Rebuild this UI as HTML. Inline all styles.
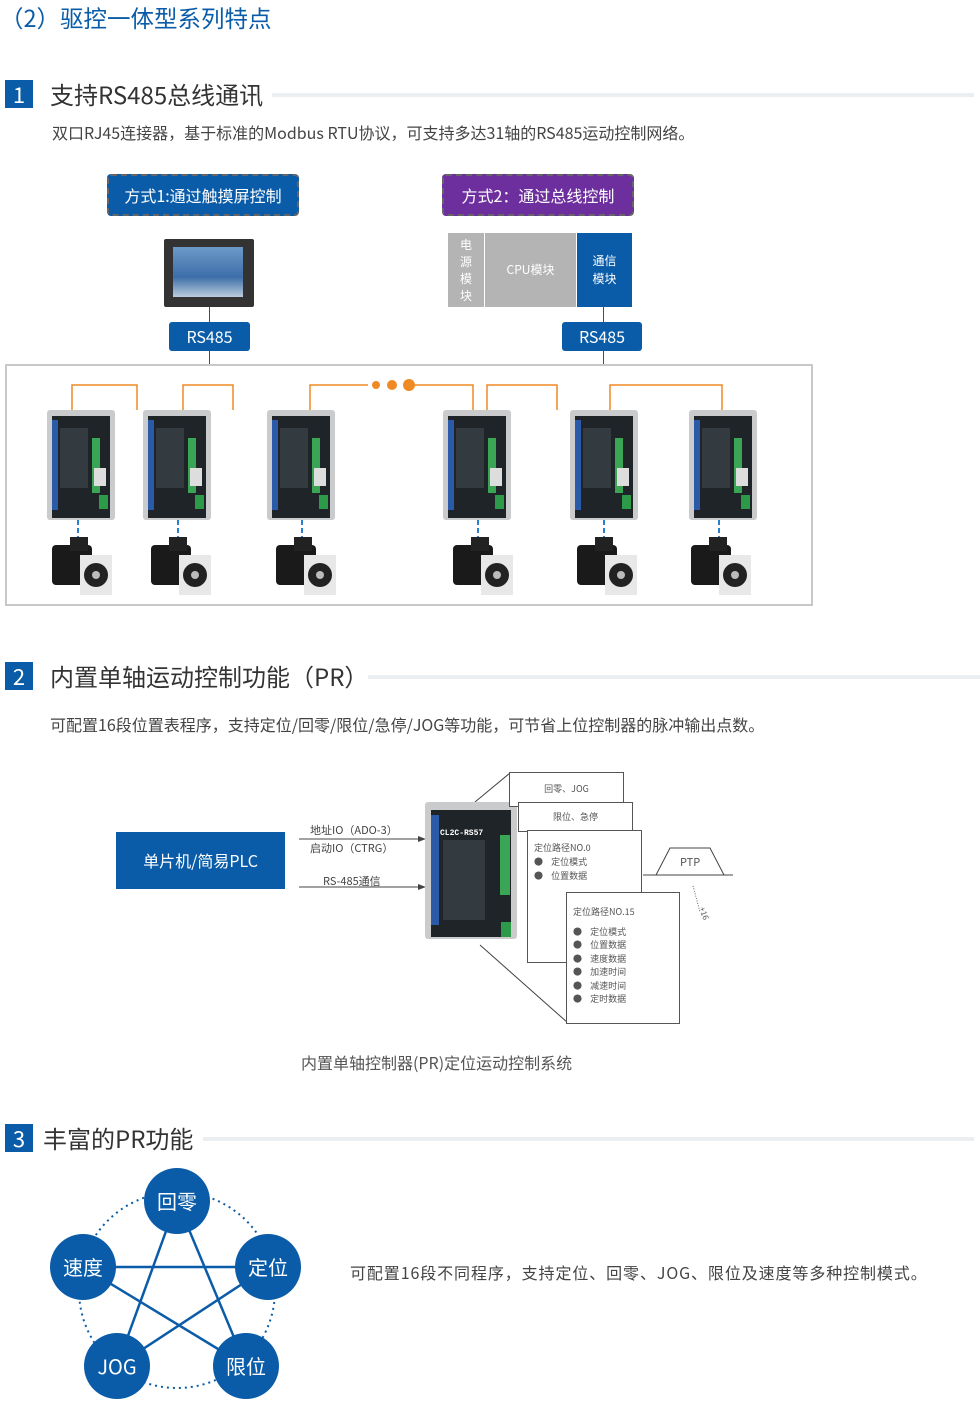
<!DOCTYPE html>
<html><head><meta charset="utf-8"><style>
*{margin:0;padding:0;box-sizing:border-box}
body{width:980px;height:1409px;background:#fff;position:relative;font-family:"Noto Sans CJK SC","Liberation Sans",sans-serif;color:#333;overflow:hidden}
.a{position:absolute}
.num{position:absolute;width:28px;height:28px;background:#0a5ca8;color:#fff;font-size:22px;text-align:center;line-height:28px}
.h{position:absolute;font-size:24px;color:#333;line-height:28px}
.gl{position:absolute;height:4px;background:#eceff2}
.p{position:absolute;font-size:16px;color:#444;line-height:20px;white-space:nowrap}
.bl{background:#0a5ca8;color:#fff;text-align:center}
.circ{position:absolute;width:66px;height:66px;border-radius:50%;background:#0a5ca8;color:#fff;font-size:20px;text-align:center;line-height:66px}
.card{position:absolute;background:#fff;border:1px solid #555;font-size:9px;color:#555}
</style></head><body>
<div class="a" style="left:0;top:2px;font-size:23.5px;color:#0a5ca8;line-height:30px">（2）驱控一体型系列特点</div>

<div class="num" style="left:5px;top:80px">1</div>
<div class="h" style="left:50px;top:80px">支持RS485总线通讯</div>
<div class="gl" style="left:272px;top:93px;width:702px"></div>
<div class="p" style="left:52px;top:122px">双口RJ45连接器，基于标准的Modbus RTU协议，可支持多达31轴的RS485运动控制网络。</div>

<div class="a bl" style="left:107px;top:174px;width:192px;height:42px;border:2px dashed #666;border-radius:4px;font-size:16px;line-height:38px">方式1:通过触摸屏控制</div>
<div class="a" style="left:442px;top:174px;width:192px;height:42px;border:2px dashed #666;border-radius:4px;background:#6e2f9e;color:#fff;font-size:16px;line-height:38px;text-align:center">方式2：通过总线控制</div>

<div class="a" style="left:164px;top:239px;width:90px;height:68px;background:#333;border-radius:2px"></div>
<div class="a" style="left:173px;top:247px;width:70px;height:50px;background:linear-gradient(#6d9ac9,#3d6ea8 60%,#bcd 100%)"></div>
<div class="a" style="left:209px;top:307px;width:1px;height:15px;background:#0a5ca8"></div>
<div class="a bl" style="left:169px;top:322px;width:81px;height:29px;border-radius:3px;font-size:16px;line-height:29px">RS485</div>
<div class="a" style="left:209px;top:351px;width:1px;height:14px;background:#0a5ca8"></div>

<div class="a" style="left:448px;top:233px;width:36px;height:74px;background:#b4b4b4;color:#fff;font-size:12px;text-align:center;line-height:17px;padding-top:3px">电<br>源<br>模<br>块</div>
<div class="a" style="left:485px;top:233px;width:91px;height:74px;background:#b4b4b4;color:#fff;font-size:12px;text-align:center;line-height:74px">CPU模块</div>
<div class="a bl" style="left:577px;top:233px;width:55px;height:74px;font-size:12px;line-height:18px;padding-top:19px">通信<br>模块</div>
<div class="a" style="left:603px;top:307px;width:1px;height:15px;background:#0a5ca8"></div>
<div class="a bl" style="left:562px;top:322px;width:80px;height:29px;border-radius:3px;font-size:16px;line-height:29px">RS485</div>
<div class="a" style="left:603px;top:351px;width:1px;height:14px;background:#0a5ca8"></div>

<div class="a" style="left:5px;top:364px;width:808px;height:242px;border:2px solid #c8c8c8"></div>

<svg class="a" style="left:0;top:360px" width="820" height="250">
<defs>
<g id="drv">
<rect x="0" y="0" width="68" height="110" rx="3" fill="#c9cbcd"/>
<rect x="5" y="6" width="58" height="102" fill="#1f2428"/>
<rect x="5" y="10" width="6" height="90" fill="#2a5aa8"/>
<rect x="45" y="28" width="8" height="55" fill="#3aa655"/>
<rect x="13" y="18" width="28" height="60" fill="#333a40"/>
<rect x="52" y="85" width="9" height="14" fill="#2d9a4a"/>
<rect x="47" y="58" width="12" height="18" fill="#ddd"/>
</g>
<g id="mot">
<rect x="0" y="8" width="40" height="40" rx="4" fill="#1a1a1a"/>
<rect x="18" y="0" width="18" height="14" fill="#222"/>
<rect x="28" y="18" width="32" height="40" fill="#e8e8e8"/>
<circle cx="44" cy="38" r="12" fill="#222"/>
<circle cx="44" cy="38" r="4" fill="#bbb"/>
</g>
</defs>
<g stroke="#f08a24" stroke-width="1.5" fill="none">
<path d="M72 50V25H137V50"/><path d="M183 50V25H233V50"/>
<path d="M310 50V25H368"/><path d="M412 25H473V50"/>
<path d="M487 50V25H557V50"/><path d="M610 50V25H722V50"/>
</g>
<circle cx="376" cy="25" r="4" fill="#f08a24"/><circle cx="392" cy="25" r="5" fill="#f08a24"/><circle cx="409" cy="25" r="6" fill="#f08a24"/>
<g stroke="#2a7fd0" stroke-width="2" stroke-dasharray="5,3">
<path d="M78 160V180M178 160V180M302 160V180M478 160V180M604 160V180M719 160V180"/>
</g>
<use href="#drv" x="47" y="50"/><use href="#drv" x="143" y="50"/><use href="#drv" x="267" y="50"/>
<use href="#drv" x="443" y="50"/><use href="#drv" x="570" y="50"/><use href="#drv" x="689" y="50"/>
<use href="#mot" x="52" y="177"/><use href="#mot" x="151" y="177"/><use href="#mot" x="276" y="177"/>
<use href="#mot" x="453" y="177"/><use href="#mot" x="577" y="177"/><use href="#mot" x="691" y="177"/>
</svg>

<div class="num" style="left:5px;top:662px">2</div>
<div class="h" style="left:50px;top:662px">内置单轴运动控制功能（PR）</div>
<div class="gl" style="left:368px;top:675px;width:612px"></div>
<div class="p" style="left:50px;top:714px">可配置16段位置表程序，支持定位/回零/限位/急停/JOG等功能，可节省上位控制器的脉冲输出点数。</div>

<div class="a bl" style="left:116px;top:832px;width:169px;height:57px;font-size:16px;line-height:57px">单片机/简易PLC</div>
<svg class="a" style="left:0;top:0" width="980" height="1100">
<g stroke="#444" stroke-width="1" fill="none">
<path d="M299 839H422M299 887H422"/>
<path d="M475 802L510 773M480 945L568 1023"/>
<path d="M643 875H733M656 875L670 848H710L724 875"/>
</g>
<path d="M418 836L426 839L418 842Z M418 884L426 887L418 890Z" fill="#444"/>
<path d="M693 886L700 912" stroke="#666" stroke-dasharray="1,1.5"/>
<rect x="425" y="802" width="92" height="137" rx="3" fill="#c9cbcd"/>
<rect x="431" y="810" width="80" height="127" fill="#1f2428"/>
<rect x="431" y="815" width="8" height="110" fill="#2a5aa8"/>
<rect x="500" y="835" width="10" height="60" fill="#3aa655"/>
<rect x="443" y="840" width="42" height="80" fill="#333a40"/>
<rect x="501" y="922" width="10" height="15" fill="#2d9a4a"/>
<text x="440" y="835" fill="#fff" font-size="8" font-weight="bold" font-family="Liberation Mono">CL2C-RS57</text>
</svg>
<div class="a" style="left:310px;top:822px;font-size:11px;color:#444">地址IO（ADO-3）</div>
<div class="a" style="left:310px;top:840px;font-size:11px;color:#444">启动IO（CTRG）</div>
<div class="a" style="left:323px;top:873px;font-size:11px;color:#444">RS-485通信</div>

<div class="card" style="left:509px;top:772px;width:115px;height:35px;text-align:center;line-height:32px">回零、JOG</div>
<div class="card" style="left:518px;top:802px;width:115px;height:30px;text-align:center;line-height:28px">限位、急停</div>
<div class="card" style="left:527px;top:830px;width:115px;height:133px;padding:10px 6px;line-height:14px">定位路径NO.0<br>●&nbsp;&nbsp;&nbsp;&nbsp;定位模式<br>●&nbsp;&nbsp;&nbsp;&nbsp;位置数据</div>
<div class="card" style="left:566px;top:892px;width:114px;height:132px;padding:12px 6px;line-height:13.5px">定位路径NO.15<br><div style="height:6px"></div>●&nbsp;&nbsp;&nbsp;&nbsp;定位模式<br>●&nbsp;&nbsp;&nbsp;&nbsp;位置数据<br>●&nbsp;&nbsp;&nbsp;&nbsp;速度数据<br>●&nbsp;&nbsp;&nbsp;&nbsp;加速时间<br>●&nbsp;&nbsp;&nbsp;&nbsp;减速时间<br>●&nbsp;&nbsp;&nbsp;&nbsp;定时数据</div>
<div class="a" style="left:680px;top:854px;font-size:11px;color:#555">PTP</div>
<div class="a" style="left:697px;top:908px;font-size:8px;color:#555;transform:rotate(70deg)">+16</div>
<div class="a" style="left:301px;top:1050px;font-size:16px;color:#555">内置单轴控制器(PR)定位运动控制系统</div>

<div class="num" style="left:5px;top:1124px">3</div>
<div class="h" style="left:43px;top:1124px">丰富的PR功能</div>
<div class="gl" style="left:203px;top:1137px;width:771px"></div>

<svg class="a" style="left:0;top:1150px" width="320" height="259">
<circle cx="177" cy="140" r="98" fill="none" stroke="#0a5ca8" stroke-width="2" stroke-dasharray="2,4"/>
<g stroke="#0a5ca8" stroke-width="2.5" fill="none">
<path d="M177 51L117 216L268 117L83 117L246 216Z"/>
</g>
</svg>
<div class="circ" style="left:144px;top:1168px">回零</div>
<div class="circ" style="left:235px;top:1234px">定位</div>
<div class="circ" style="left:213px;top:1333px">限位</div>
<div class="circ" style="left:84px;top:1333px">JOG</div>
<div class="circ" style="left:50px;top:1234px">速度</div>
<div class="p" style="left:350px;top:1262px;letter-spacing:0.9px">可配置16段不同程序，支持定位、回零、JOG、限位及速度等多种控制模式。</div>
</body></html>
